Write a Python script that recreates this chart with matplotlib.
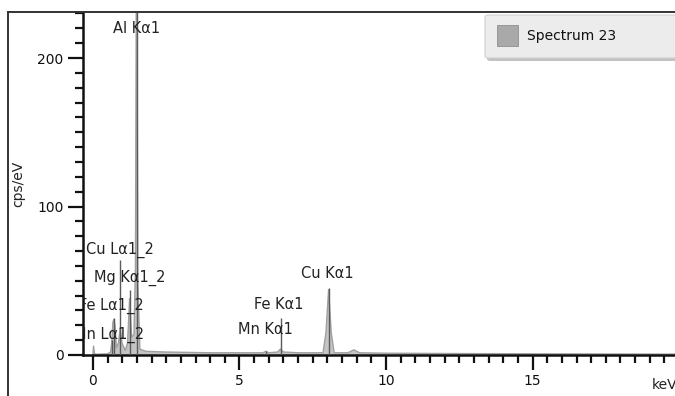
import matplotlib.pyplot as plt
from matplotlib.lines import Line2D
from matplotlib.patches import FancyBboxPatch, Rectangle
import numpy as np

# spectrum (keV, cps/eV)
spec_kev = [0.0, 0.02, 0.05, 0.1, 0.5, 0.6, 0.64, 0.68, 0.71, 0.75, 0.8,
            0.87, 0.93, 0.99, 1.1, 1.18, 1.25, 1.32, 1.4, 1.45, 1.49, 1.53,
            1.6, 1.8, 2.5, 4.0, 5.8, 5.9, 6.0, 6.3, 6.4, 6.5, 7.0, 7.85,
            7.95, 8.04, 8.13, 8.23, 8.7, 8.9, 9.1, 10.0, 12.0, 15.0, 20.0]
spec_cps = [0.5, 6.0, 1.0, 0.5, 0.8, 2.0, 8.0, 22.0, 24.0, 20.0, 5.0,
            8.0, 18.0, 8.0, 3.0, 8.0, 38.0, 12.0, 14.0, 60.0, 320.0, 50.0,
            4.0, 2.5, 2.0, 1.5, 1.5, 2.5, 1.5, 2.0, 4.0, 2.0, 1.5, 1.5,
            15.0, 44.0, 15.0, 1.5, 1.5, 3.5, 1.5, 1.2, 1.0, 0.8, 0.6]

# element marker lines
line_names = ['Al Kα1', 'Cu Lα1_2', 'Mg Kα1_2', 'Fe Lα1_2', 'Mn Lα1_2',
              'Mn Kα1', 'Fe Kα1', 'Cu Kα1']
line_kev = [1.487, 0.930, 1.254, 0.705, 0.637, 5.899, 6.404, 8.048]
line_cps = [320, 64, 44, 25, 10, 3, 25, 45]
label_kev = [1.50, 0.93, 1.25, 0.64, 0.56, 5.87, 6.35, 7.98]
label_cps = [220, 71, 52, 33, 13.5, 17, 34, 55]

W, H = 675, 396
fig = plt.figure(figsize=(6.75, 3.96), dpi=100)
ax = fig.add_axes([83 / W, 1 - 355 / H, 1 - 83 / W, (355 - 12) / H])

ax.fill_between(spec_kev, spec_cps, 0, color='#c4c4c4', lw=0, zorder=1)
ax.plot(spec_kev, spec_cps, color='#a0a0a0', lw=1, zorder=2)
ax.vlines(line_kev, 0, line_cps, color='#5a5a5a', lw=1, zorder=3)

for name, e, y in zip(line_names, label_kev, label_cps):
    ax.text(e, y, name, ha='center', va='center', fontsize=10.5,
            color='#222222', zorder=4, clip_on=True)

ax.set_xlim(-0.34, 19.86)
ax.set_ylim(0, 231)
ax.set_xticks([0, 5, 10, 15])
ax.set_xticks(np.arange(0, 20, 0.5), minor=True)
ax.set_yticks([0, 100, 200])
ax.set_yticks(np.arange(0, 231, 10), minor=True)
ax.tick_params(which='major', length=11, width=1.6, labelsize=10,
               colors='#111111', pad=3)
ax.tick_params(which='minor', length=5.5, width=1.6, colors='#111111')
for s in ['top', 'right']:
    ax.spines[s].set_visible(False)
for s in ['left', 'bottom']:
    ax.spines[s].set_linewidth(1.8)
    ax.spines[s].set_color('#111111')

fig.text(18 / W, 1 - 184 / H, 'cps/eV', rotation=90, ha='center',
         va='center', fontsize=10, color='#222222')
fig.text(652 / W, 1 - 385 / H, 'keV', ha='left', va='center', fontsize=10,
         color='#222222')

# outer frame
fig.add_artist(Line2D([8 / W, 1], [1 - 12 / H, 1 - 12 / H], color='#333333', lw=1.4))
fig.add_artist(Line2D([8 / W, 8 / W], [0, 1 - 12 / H], color='#333333', lw=1.4))

# legend box
fig.add_artist(FancyBboxPatch((487 / W, 1 - 61 / H), 200 / W, 43 / H,
                              boxstyle='round,pad=0,rounding_size=0.005',
                              transform=fig.transFigure, fc='#9a9a9a',
                              ec='none', alpha=0.6))
fig.add_artist(FancyBboxPatch((485 / W, 1 - 58 / H), 200 / W, 43 / H,
                              boxstyle='round,pad=0,rounding_size=0.005',
                              transform=fig.transFigure, fc='#ececec',
                              ec='#d0d0d0', lw=0.8))
fig.add_artist(Rectangle((497 / W, 1 - 46 / H), 21 / W, 21 / H,
                         transform=fig.transFigure, fc='#a9a9a9',
                         ec='#909090', lw=0.6))
fig.text(527 / W, 1 - 36 / H, 'Spectrum 23', ha='left', va='center',
         fontsize=10, color='#111111')

fig.savefig('out.png', dpi=100)
